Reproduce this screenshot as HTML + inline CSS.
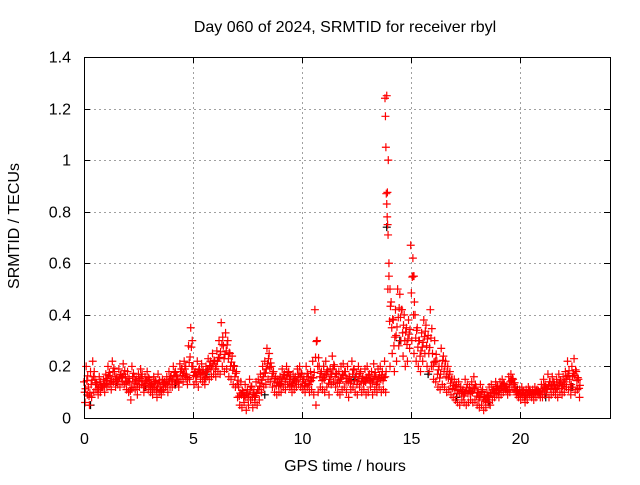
<!DOCTYPE html>
<html><head><meta charset="utf-8"><style>
body{margin:0;background:#fff;}
svg text{font-family:"Liberation Sans",sans-serif;font-size:16px;fill:#000;}
</style></head><body>
<svg id="chart" width="640" height="480">
<text x="345" y="32" text-anchor="middle">Day 060 of 2024, SRMTID for receiver rbyl</text>
<text x="345" y="471" text-anchor="middle">GPS time / hours</text>
<text transform="translate(19,226) rotate(-90)" text-anchor="middle">SRMTID / TECUs</text>
<g id="grid"></g><g id="ticks"></g><g id="marks"></g>
<rect x="84.5" y="57.5" width="526" height="361" fill="none" stroke="#000"/>
</svg>
<script>
const xTicks=[0,5,10,15,20];
const yTicks=[0,0.2,0.4,0.6,0.8,1,1.2,1.4];
const yTickLabels=["0","0.2","0.4","0.6","0.8","1","1.2","1.4"];
const seriesUpper=[.14,.2,.12,.18,.22,.15,.13,.16,.12,.15,.17,.2,.16,.22,.18,.15,.19,.17,.21,.16,.18,.14,.2,.16,.15,.17,.19,.14,.16,.18,.15,.13,.16,.14,.17,.12,.15,.14,.16,.18,.16,.2,.18,.15,.21,.19,.22,.17,.28,.35,.2,.18,.22,.19,.21,.17,.2,.23,.22,.25,.22,.26,.3,.37,.28,.33,.3,.25,.24,.2,.18,.12,.14,.1,.13,.11,.15,.12,.1,.14,.15,.17,.2,.22,.27,.25,.2,.18,.16,.15,.16,.19,.17,.2,.18,.15,.17,.16,.19,.2,.17,.15,.2,.16,.18,.22,.42,.3,.2,.18,.2,.22,.18,.19,.24,.2,.17,.18,.2,.21,.18,.2,.16,.22,.19,.17,.2,.18,.16,.19,.2,.17,.18,.21,.16,.19,.2,.18,.22,1.25,.55,.45,.38,.42,.5,.48,.42,.4,.35,.38,.67,.55,.4,.35,.3,.33,.38,.36,.32,.42,.25,.3,.22,.2,.27,.24,.22,.2,.18,.15,.15,.13,.14,.12,.11,.15,.13,.12,.14,.16,.12,.1,.13,.11,.09,.1,.12,.13,.11,.14,.12,.14,.15,.13,.12,.16,.17,.15,.12,.1,.11,.12,.1,.11,.12,.1,.11,.12,.11,.1,.13,.15,.12,.17,.14,.16,.13,.15,.17,.14,.16,.18,.22,.15,.2,.23,.18,.15];
const seriesLower=[.06,.09,.05,.08,.1,.11,.09,.1,.12,.1,.12,.13,.11,.14,.12,.13,.12,.14,.13,.11,.1,.07,.12,.11,.09,.12,.13,.1,.12,.11,.1,.09,.11,.08,.1,.09,.11,.12,.1,.12,.12,.13,.14,.12,.15,.14,.16,.13,.15,.2,.13,.14,.12,.15,.14,.13,.16,.15,.16,.17,.16,.18,.17,.2,.18,.19,.16,.15,.13,.12,.08,.05,.04,.06,.03,.05,.07,.04,.06,.05,.07,.1,.12,.13,.15,.14,.12,.1,.09,.1,.1,.12,.11,.13,.12,.1,.11,.12,.13,.12,.11,.1,.12,.1,.11,.09,.05,.1,.12,.11,.1,.12,.09,.13,.14,.12,.1,.09,.11,.12,.1,.08,.11,.12,.1,.09,.12,.1,.11,.09,.1,.12,.09,.11,.1,.12,.1,.11,.1,.5,.2,.25,.18,.22,.28,.3,.24,.2,.22,.27,.3,.25,.22,.2,.18,.22,.25,.2,.18,.2,.15,.14,.12,.11,.13,.12,.1,.11,.09,.08,.07,.06,.05,.07,.06,.05,.06,.07,.06,.07,.05,.04,.05,.03,.04,.06,.05,.07,.08,.09,.08,.09,.1,.11,.09,.1,.12,.11,.09,.08,.07,.08,.06,.07,.09,.08,.07,.08,.09,.08,.08,.09,.1,.08,.09,.1,.09,.08,.1,.09,.1,.12,.11,.09,.12,.1,.11,.08];
const hours=[];for(let i=0;i<seriesUpper.length;i++)hours.push(i/10);
const spikeHours=[13.82,13.84,13.86,13.88,13.9,13.92,13.94,13.96,14.0,14.05,15.1,15.15];
const spikeValues=[1.24,1.17,1.05,0.87,0.83,0.78,0.75,0.71,0.6,0.5,0.62,0.55];
const blackHours=[0.3,1.5,2.8,4.2,5.6,6.9,8.3,9.6,11.0,12.4,13.9,14.5,15.8,17.1,18.6,19.9,21.2,22.4];
const blackValues=[0.05,0.14,0.12,0.13,0.17,0.2,0.09,0.15,0.2,0.15,0.74,0.3,0.17,0.08,0.06,0.11,0.08,0.12];
const X0=84,X1=610,Y0=418,Y1=57;
const xs=h=>X0+h*(X1-X0)/24.15;
const ys=v=>Y0-v*(Y0-Y1)/1.4;
const NS="http://www.w3.org/2000/svg";
const grid=document.getElementById('grid'),ticks=document.getElementById('ticks'),marks=document.getElementById('marks');
function mk(t,a,p){const e=document.createElementNS(NS,t);for(const k in a)e.setAttribute(k,a[k]);p.appendChild(e);return e;}
xTicks.forEach(t=>{const x=Math.round(xs(t))+0.5;
 if(t>0){const g=mk('line',{x1:x,x2:x,y1:Y1,y2:Y0,stroke:'#a0a0a0','stroke-dasharray':'2,3'},grid);
 }
 mk('line',{x1:x,x2:x,y1:Y0,y2:Y0-6,stroke:'#000'},ticks);mk('line',{x1:x,x2:x,y1:Y1,y2:Y1+6,stroke:'#000'},ticks);
 const l=mk('text',{x:x,y:444,'text-anchor':'middle'},ticks);l.textContent=t;
 });
yTicks.forEach((t,i)=>{const y=Math.round(ys(t))+0.5;
 if(t>0&&t<1.4){const g=mk('line',{x1:X0,x2:X1,y1:y,y2:y,stroke:'#a0a0a0','stroke-dasharray':'2,3'},grid);
 }
 mk('line',{x1:X0,x2:X0+6,y1:y,y2:y,stroke:'#000'},ticks);mk('line',{x1:X1,x2:X1-6,y1:y,y2:y,stroke:'#000'},ticks);
 const l=mk('text',{x:71,y:y+5,'text-anchor':'end'},ticks);l.textContent=yTickLabels[i];
 });
function plus(h,v,c){const x=xs(h),y=ys(v);
 const p=mk('path',{d:`M${x-4},${y}H${x+4}M${x},${y-4}V${y+4}`,stroke:c,'stroke-width':1.2},marks);
 
 }
blackHours.forEach((h,i)=>plus(h,blackValues[i],'#000'));
hours.forEach((h,i)=>{plus(h,seriesUpper[i],'#f00');plus(h+0.05,seriesLower[i],'#f00');plus(h+0.03,(seriesUpper[i]+seriesLower[i])/2,'#f00');plus(h+0.07,(seriesUpper[i]*2+seriesLower[i])/3,'#f00');});
spikeHours.forEach((h,i)=>plus(h,spikeValues[i],'#f00'));
</script>
</body></html>
